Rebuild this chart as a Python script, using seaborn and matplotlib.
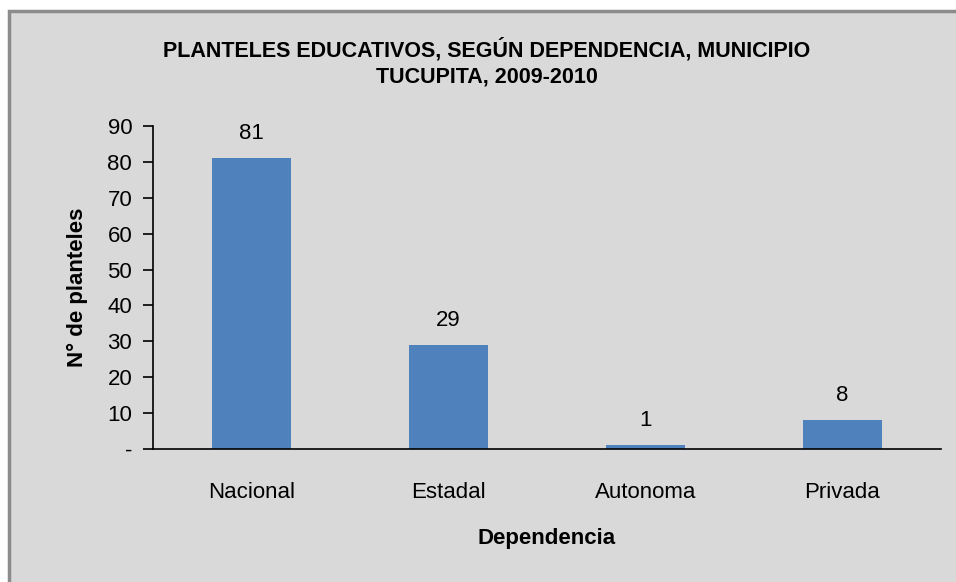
import matplotlib
matplotlib.use("Agg")
import matplotlib.pyplot as plt
from matplotlib.patches import Rectangle
from matplotlib import font_manager
import seaborn as sns
import pandas as pd

# data
categorias = ["Nacional", "Estadal", "Autonoma", "Privada"]
planteles = [81, 29, 1, 8]
y_ticks = [0, 10, 20, 30, 40, 50, 60, 70, 80, 90]
y_tick_labels = ["-", "10", "20", "30", "40", "50", "60", "70", "80", "90"]

titulo = "PLANTELES EDUCATIVOS, SEGÚN DEPENDENCIA, MUNICIPIO\nTUCUPITA, 2009-2010"

df = pd.DataFrame({"Dependencia": categorias, "Planteles": planteles})

sns.set_style("white")
names = {f.name for f in font_manager.fontManager.ttflist}
narrow = "Liberation Sans Narrow" if "Liberation Sans Narrow" in names else "Liberation Sans"
plt.rcParams["font.family"] = [narrow, "DejaVu Sans"]
plt.rcParams["text.color"] = "black"
plt.rcParams["axes.labelcolor"] = "black"
plt.rcParams["xtick.color"] = "black"
plt.rcParams["ytick.color"] = "black"

bg = "#D9D9D9"
bar_color = "#4F81BD"

fig = plt.figure(figsize=(9.56, 5.82), dpi=100)
fig.patch.set_facecolor("white")
# chart area with gray border (cut off at right/bottom like the reference)
frame = Rectangle((9 / 956, -0.05), 1.1, (582 - 11) / 582 + 0.05,
                  transform=fig.transFigure, facecolor=bg,
                  edgecolor="#8C8C8C", linewidth=2.5, zorder=-5)
fig.patches.append(frame)

ax = fig.add_axes([153 / 956, 1 - 449 / 582, (941 - 153) / 956, (449 - 126) / 582])
ax.patch.set_alpha(0)

sns.barplot(data=df, x="Dependencia", y="Planteles", color=bar_color,
            width=0.4, saturation=1, linewidth=0, ax=ax)

for i, v in enumerate(planteles):
    ax.text(i, v + 4, str(v), ha="center", va="bottom", fontsize=16)

ax.set_xlim(-0.5, 3.5)
ax.set_ylim(0, 90)
ax.set_yticks(y_ticks)
ax.set_yticklabels(y_tick_labels)
ax.tick_params(axis="y", left=True, labelsize=16, length=7, width=1.2,
               direction="out", pad=8)
ax.tick_params(axis="x", bottom=False, labelsize=16, length=0, pad=24)

for s in ["top", "right"]:
    ax.spines[s].set_visible(False)
for s in ["left", "bottom"]:
    ax.spines[s].set_color("black")
    ax.spines[s].set_linewidth(1.2)

ax.set_xlabel("Dependencia", fontsize=16, fontweight="bold", labelpad=18)
ax.set_ylabel("N° de planteles", fontsize=16, fontweight="bold", labelpad=14)

fig.text(487 / 956, 1 - 63 / 582, titulo, ha="center", va="center",
         fontsize=15.5, fontweight="bold", linespacing=1.3)

fig.savefig("out.png", dpi=100)
